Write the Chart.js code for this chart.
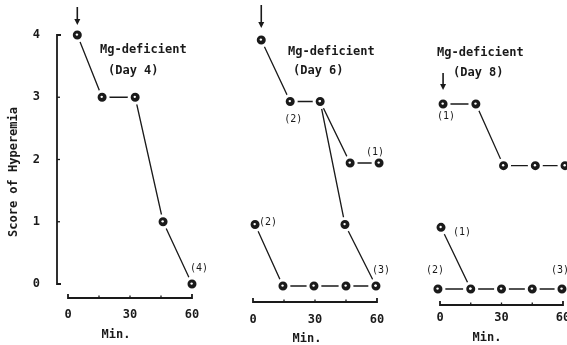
<!DOCTYPE html>
<html>
<head>
<meta charset="utf-8">
<script src="https://cdn.jsdelivr.net/npm/chart.js@4.4.1/dist/chart.umd.min.js"></script>
<style>
  html, body { margin: 0; padding: 0; background: #fff; overflow: hidden; }
  #wrap { position: relative; width: 567px; height: 345px; overflow: hidden; background: #fff; }
  #wrap canvas { position: absolute; top: 0; }
</style>
</head>
<body>
<div id="wrap">
  <canvas id="day4" width="215" height="345" style="left:0px"></canvas>
  <canvas id="day6" width="190" height="345" style="left:215px"></canvas>
  <canvas id="day8" width="180" height="345" style="left:405px"></canvas>
</div>
<script>
// values (minutes after the arrow, hyperemia score)
const day4Min = [4.5, 16.5, 32.5, 46, 60];
const day4Score = [4, 3, 3, 1, 0];

const day6UpperMin = [4, 18, 32.5, 47, 61];
const day6UpperScore = [4, 3, 3, 2, 2];
const day6BranchMin = [32.5, 44.5, 59.5];
const day6BranchScore = [3, 1, 0];
const day6LowerMin = [1, 14.5, 29.5, 45, 59.5];
const day6LowerScore = [1, 0, 0, 0, 0];

const day8UpperMin = [1.5, 17.5, 31, 46.5, 61];
const day8UpperScore = [3, 3, 2, 2, 2];
const day8LowerMin = [0.5, 15, 30, 45, 59.5];
const day8LowerScore = [1, 0, 0, 0, 0];
const day8ZeroMin = [-1, 15];
const day8ZeroScore = [0, 0];

// group sizes written next to the curves
const day4Counts = ['(4)'];
const day6Counts = ['(2)', '(1)', '(2)', '(3)'];
const day8Counts = ['(1)', '(1)', '(2)', '(3)'];

const minTicks = [0, 30, 60];
const minMarks = [0, 15, 30, 45, 60];
const scoreTicks = [0, 1, 2, 3, 4];
const groupName = 'Mg-deficient';
const dayTitles = ['(Day 4)', '(Day 6)', '(Day 8)'];
const xTitle = 'Min.';
const yTitle = 'Score of Hyperemia';

const INK = '#1a1a1a';
const FONT = '"DejaVu Sans Mono", monospace';
const LABEL = 'bold 12px ' + FONT;

// value range that puts v0 at pixel p0 and v1 at p1 when the axis spans pa..pb
function span(v0, p0, v1, p1, pa, pb) {
  const at = p => v0 + (p - p0) * (v1 - v0) / (p1 - p0);
  return [at(pa), at(pb)];
}

function decor(p) {
  return {
    id: 'decor',
    afterDraw(chart) {
      const ctx = chart.ctx, xs = chart.scales.x, ys = chart.scales.y, a = chart.chartArea;
      const X = v => xs.getPixelForValue(v), Y = v => ys.getPixelForValue(v);
      ctx.save();
      ctx.strokeStyle = INK;
      ctx.fillStyle = INK;
      ctx.lineCap = 'butt';

      // bracket-like time axis
      ctx.lineWidth = 1.8;
      const y0 = a.bottom, xa = X(minMarks[0]), xb = X(minMarks[minMarks.length - 1]);
      ctx.beginPath();
      ctx.moveTo(xa, y0 - 4); ctx.lineTo(xa, y0); ctx.lineTo(xb, y0); ctx.lineTo(xb, y0 - 4);
      ctx.stroke();
      ctx.lineWidth = 1.3;
      minMarks.slice(1, -1).forEach(m => {
        ctx.beginPath(); ctx.moveTo(X(m), y0); ctx.lineTo(X(m), y0 - 2.5); ctx.stroke();
      });

      // score axis only on the first panel
      if (p.showY) {
        ctx.lineWidth = 1.8;
        const x0 = a.left, ya = Y(scoreTicks[0]), yb = Y(scoreTicks[scoreTicks.length - 1]);
        ctx.beginPath();
        ctx.moveTo(x0 + 4, yb); ctx.lineTo(x0, yb); ctx.lineTo(x0, ya); ctx.lineTo(x0 + 4, ya);
        ctx.stroke();
        ctx.lineWidth = 1.3;
        scoreTicks.slice(1, -1).forEach(s => {
          ctx.beginPath(); ctx.moveTo(x0, Y(s)); ctx.lineTo(x0 + 3, Y(s)); ctx.stroke();
        });
        ctx.save();
        ctx.font = LABEL;
        ctx.textAlign = 'center';
        ctx.textBaseline = 'middle';
        ctx.translate(p.yTitleAt[0] - p.left, p.yTitleAt[1]);
        ctx.rotate(-Math.PI / 2);
        ctx.fillText(yTitle, 0, 0);
        ctx.restore();
      }

      // little light spot in the middle of each dot, as in the print
      ctx.fillStyle = '#fff';
      chart.data.datasets.forEach((d, i) => {
        chart.getDatasetMeta(i).data.forEach(pt => {
          ctx.beginPath(); ctx.arc(pt.x - 0.4, pt.y - 0.4, 1.2, 0, Math.PI * 2); ctx.fill();
        });
      });
      ctx.fillStyle = INK;

      // arrow over the first reading
      const first = chart.getDatasetMeta(0).data[0];
      const ax = first.x, top = first.y - p.arrow[0], tip = first.y - p.arrow[1];
      ctx.lineWidth = 1.6;
      ctx.beginPath(); ctx.moveTo(ax, top); ctx.lineTo(ax, tip - 5); ctx.stroke();
      ctx.beginPath(); ctx.moveTo(ax - 3, tip - 6); ctx.lineTo(ax + 3, tip - 6); ctx.lineTo(ax, tip); ctx.closePath(); ctx.fill();

      // titles
      ctx.font = LABEL;
      ctx.textBaseline = 'middle';
      ctx.textAlign = 'left';
      ctx.fillText(groupName, p.titleAt[0] - p.left, p.titleAt[1]);
      ctx.fillText(p.day, p.dayAt[0] - p.left, p.dayAt[1]);
      ctx.textAlign = 'center';
      ctx.fillText(xTitle, p.xTitleAt[0] - p.left, p.xTitleAt[1]);

      // n per curve
      ctx.font = '10px ' + FONT;
      p.counts.forEach((t, i) => {
        const [m, s, dx, dy] = p.countAt[i];
        ctx.fillText(t, X(m) + dx, Y(s) + dy);
      });
      ctx.restore();
    }
  };
}

function buildPanel(id, p) {
  const [xMin, xMax] = span(0, p.x0, 60, p.x60, p.area.l, p.area.r);
  const [yMin, yMax] = span(0, p.y0, p.yRef, p.yRefPx, p.area.b, p.area.t);
  const canvas = document.getElementById(id);
  new Chart(canvas.getContext('2d'), {
    type: 'line',
    data: {
      datasets: p.series.map(([mins, scores]) => ({
        data: mins.map((m, i) => ({ x: m, y: scores[i] })),
        borderColor: INK,
        borderWidth: 1.3,
        pointRadius: 6,
        pointHoverRadius: 6,
        pointBorderWidth: 3,
        pointBorderColor: '#fff',
        pointBackgroundColor: INK,
        tension: 0,
        clip: false
      }))
    },
    options: {
      responsive: false,
      animation: false,
      devicePixelRatio: 1,
      layout: {
        padding: {
          left: p.showY ? 0 : p.area.l - p.left,
          top: p.area.t,
          right: p.left + p.width - p.area.r,
          bottom: 0
        }
      },
      plugins: { legend: { display: false }, tooltip: { enabled: false } },
      scales: {
        x: {
          type: 'linear',
          min: xMin,
          max: xMax,
          afterBuildTicks: s => { s.ticks = minTicks.map(v => ({ value: v })); },
          afterFit: s => { s.height = 345 - p.area.b; s.paddingLeft = 0; s.paddingRight = 0; },
          grid: { display: false, drawTicks: false },
          border: { display: false },
          ticks: { color: INK, font: { family: FONT, size: 12, weight: 'bold' }, padding: p.xPad, maxRotation: 0 }
        },
        y: {
          type: 'linear',
          display: p.showY,
          min: yMin,
          max: yMax,
          afterBuildTicks: s => { s.ticks = scoreTicks.map(v => ({ value: v })); },
          afterFit: s => {
            s.width = p.showY ? p.area.l - p.left : 0;
            s.paddingTop = 0; s.paddingBottom = 0;
          },
          grid: { display: false, drawTicks: false },
          border: { display: false },
          ticks: { color: INK, font: { family: FONT, size: 12, weight: 'bold' }, padding: 17 }
        }
      }
    },
    plugins: [decor(p)]
  });
}

buildPanel('day4', {
  left: 0, width: 215,
  area: { l: 57, r: 205, t: 30, b: 298 },
  x0: 68, x60: 192, y0: 284, yRef: 4, yRefPx: 35,
  xPad: 10, showY: true,
  series: [[day4Min, day4Score]],
  arrow: [28, 10],
  day: dayTitles[0], titleAt: [100, 50], dayAt: [108, 71],
  xTitleAt: [116, 335], yTitleAt: [14, 172],
  counts: day4Counts, countAt: [[60, 0, 7, -16]]
});

buildPanel('day6', {
  left: 215, width: 190,
  area: { l: 240, r: 395, t: 30, b: 302 },
  x0: 253, x60: 377, y0: 286, yRef: 4, yRefPx: 40,
  xPad: 11, showY: false,
  series: [[day6UpperMin, day6UpperScore], [day6BranchMin, day6BranchScore], [day6LowerMin, day6LowerScore]],
  arrow: [35, 12],
  day: dayTitles[1], titleAt: [288, 52], dayAt: [293, 71],
  xTitleAt: [307, 339],
  counts: day6Counts,
  countAt: [[18, 3, 3, 18], [61, 2, -4, -11], [1, 1, 13, -2], [59.5, 0, 5, -16]]
});

buildPanel('day8', {
  left: 405, width: 180,
  area: { l: 425, r: 575, t: 30, b: 305 },
  x0: 440, x60: 563, y0: 289, yRef: 3, yRefPx: 104,
  xPad: 6, showY: false,
  series: [[day8UpperMin, day8UpperScore], [day8LowerMin, day8LowerScore], [day8ZeroMin, day8ZeroScore]],
  arrow: [31, 14],
  day: dayTitles[2], titleAt: [437, 53], dayAt: [453, 73],
  xTitleAt: [487, 338],
  counts: day8Counts,
  countAt: [[1.5, 3, 3, 12], [0.5, 1, 21, 5], [-1, 0, -3, -19], [59.5, 0, -2, -19]]
});
</script>
</body>
</html>
